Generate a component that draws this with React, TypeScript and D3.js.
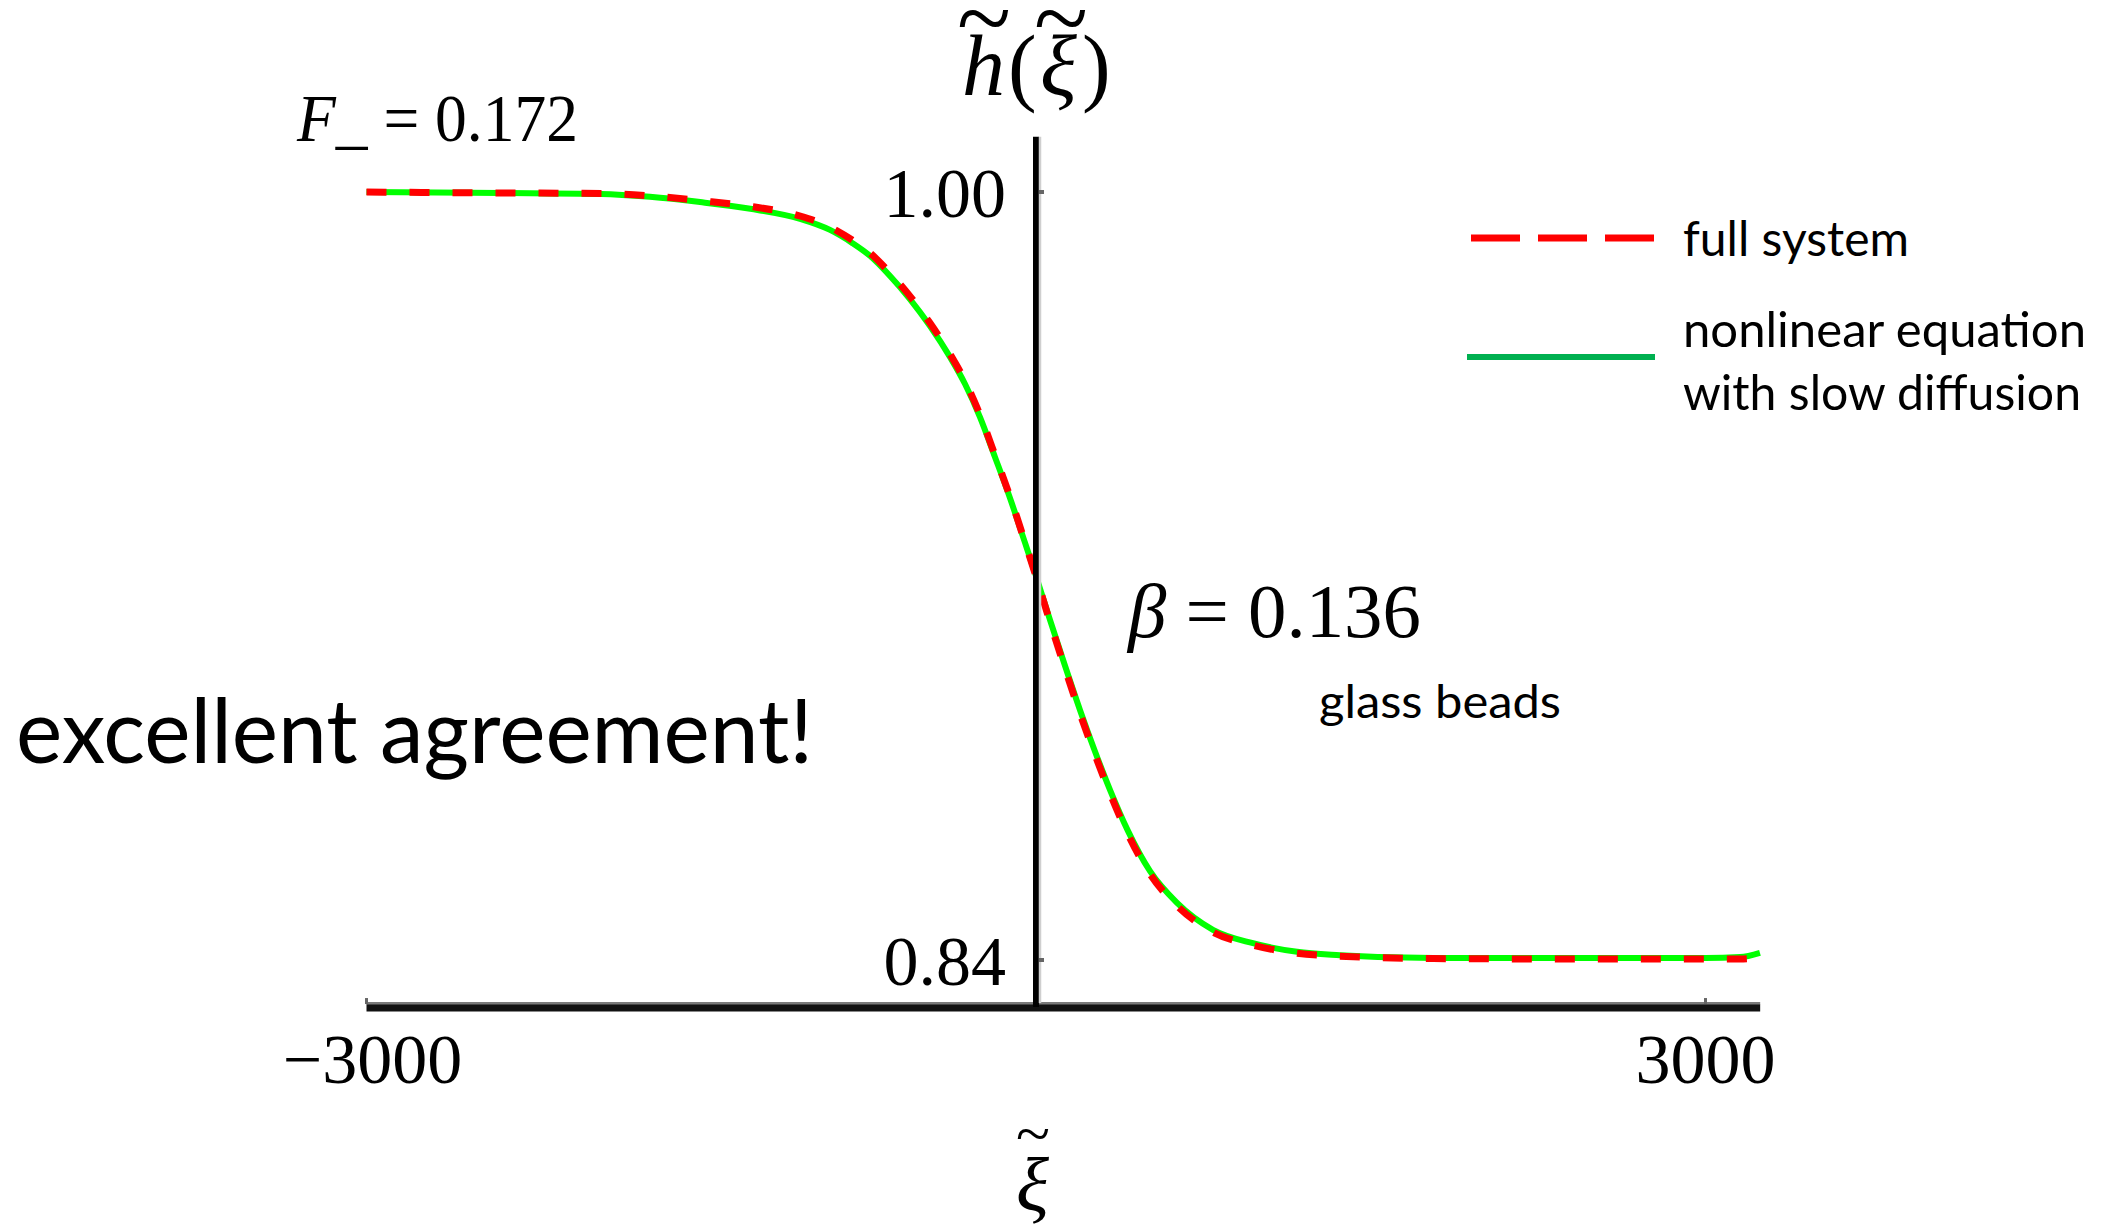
import React from "react";
import * as d3 from "d3";

// ---- data ----
const xiValues = [-3000, -2400, -1950, -1730, -1505, -1280, -1057, -923, -824, -744, -654, -565, -475, -385, -318, -251, -184, -117, -49, -4, 63, 130, 197, 264, 332, 412, 511, 632, 793, 972, 1170, 1362, 1780, 2530, 3000, 3155, 3244];
const nonlinearH = [1.0, 0.9998, 0.9996, 0.999, 0.9979, 0.9965, 0.9944, 0.9921, 0.9894, 0.9867, 0.9825, 0.9777, 0.9721, 0.9656, 0.96, 0.9531, 0.9448, 0.9363, 0.9269, 0.9206, 0.9108, 0.9013, 0.8921, 0.8835, 0.8754, 0.8669, 0.8585, 0.8519, 0.8463, 0.8435, 0.8417, 0.841, 0.8404, 0.8404, 0.8404, 0.8406, 0.8415];
const fullSystemH = [1.0, 0.9998, 0.9997, 0.9992, 0.9982, 0.9970, 0.9950, 0.9927, 0.9900, 0.9873, 0.9831, 0.9783, 0.9727, 0.9662, 0.9606, 0.9536, 0.9452, 0.9366, 0.9270, 0.9205, 0.9104, 0.9007, 0.8914, 0.8828, 0.8747, 0.8662, 0.8579, 0.8513, 0.8458, 0.8431, 0.8414, 0.8408, 0.8403, 0.8402, 0.8402, 0.8402, 0.8405];

const xTicks = [-3000, 3000];
const xTickLabels = ["\u22123000", "3000"];
const yTicks = [1.0, 0.84];
const yTickLabels = ["1.00", "0.84"];

const legendLabels = ["full system", "nonlinear equation", "with slow diffusion"];

const W = 2118;
const H = 1230;

export default function App() {
  const x = d3.scaleLinear().domain([-3000, 3000]).range([366.5, 1705.5]);
  const y = d3.scaleLinear().domain([0.84, 1.0]).range([960, 192]);

  const xAxisY = y(0.8302);
  const yAxisX = x(0);
  const xAxisEnd = x(3245);
  const yAxisTop = y(1.0115);

  const line = d3
    .line<number>()
    .x((_, i) => x(xiValues[i]))
    .y((d) => y(d))
    .curve(d3.curveMonotoneX);

  const serif = "'Liberation Serif', 'Times New Roman', serif";
  const sans = "Lato, 'Open Sans', sans-serif";

  return (
    <svg
      width={W}
      height={H}
      viewBox={`0 0 ${W} ${H}`}
      style={{ position: "absolute", left: 0, top: 0, display: "block", background: "#fff" }}
    >
      <rect x={0} y={0} width={W} height={H} fill="#fff" />

      {/* curves */}
      <path d={line(nonlinearH) || ""} fill="none" stroke="#00ff00" strokeWidth={6} strokeLinejoin="round" />
      <path
        d={line(fullSystemH) || ""}
        fill="none"
        stroke="#ff0000"
        strokeWidth={7}
        strokeDasharray="20 23"
      />

      {/* x axis */}
      <line x1={x(-3000)} x2={xAxisEnd} y1={xAxisY - 3.5} y2={xAxisY - 3.5} stroke="#7a7a7a" strokeWidth={3} />
      <line x1={x(-3000)} x2={xAxisEnd} y1={xAxisY + 1} y2={xAxisY + 1} stroke="#111" strokeWidth={7} />
      {xTicks.map((t, i) => (
        <g key={"xt" + i}>
          <line x1={x(t)} x2={x(t)} y1={xAxisY - 9} y2={xAxisY - 3} stroke="#666" strokeWidth={3} />
          <text
            x={x(t) + (t < 0 ? 6 : 0)}
            y={1083}
            textAnchor="middle"
            fontFamily={serif}
            fontSize={70}
            fill="#000"
          >
            {xTickLabels[i]}
          </text>
        </g>
      ))}

      {/* y axis */}
      <line x1={yAxisX} x2={yAxisX} y1={yAxisTop} y2={xAxisY} stroke="#000" strokeWidth={6} />
      <line x1={yAxisX + 4} x2={yAxisX + 4} y1={yAxisTop} y2={xAxisY - 4} stroke="#cfcfcf" strokeWidth={2.5} />
      {yTicks.map((t, i) => (
        <g key={"yt" + i}>
          <line x1={yAxisX + 3} x2={yAxisX + 8} y1={y(t)} y2={y(t)} stroke="#666" strokeWidth={4} />
          <text x={1006} y={y(t) + 25} textAnchor="end" fontFamily={serif} fontSize={70} fill="#000">
            {yTickLabels[i]}
          </text>
        </g>
      ))}

      {/* y axis label h~(xi~) as one text with positioned parts */}
      <text fontFamily={serif} fontSize={86} fill="#000">
        <tspan x={962} y={95} fontStyle="italic">h</tspan>
        <tspan x={1008} y={95}>(</tspan>
        <tspan x={1040} y={95} fontStyle="italic">ξ</tspan>
        <tspan x={1082} y={95}>)</tspan>
        <tspan x={957} y={51} fontSize={100} textLength={54} lengthAdjust="spacingAndGlyphs">~</tspan>
        <tspan x={1034} y={51} fontSize={100} textLength={54} lengthAdjust="spacingAndGlyphs">~</tspan>
      </text>

      {/* x axis label xi~ */}
      <text fontFamily={serif} fontSize={77} fill="#000">
        <tspan x={1016} y={1211} fontStyle="italic">ξ</tspan>
        <tspan x={1016} y={1154} fontSize={60} textLength={34} lengthAdjust="spacingAndGlyphs">~</tspan>
      </text>

      {/* parameter annotations */}
      <text x={297} y={141} fontFamily={serif} fontSize={67} fill="#000" textLength={281} lengthAdjust="spacingAndGlyphs">
        <tspan fontStyle="italic">F</tspan>
        <tspan>_ = 0.172</tspan>
      </text>
      <text x={1128} y={637} fontFamily={serif} fontSize={76} fill="#000" textLength={293} lengthAdjust="spacingAndGlyphs">
        <tspan fontStyle="italic">β</tspan>
        <tspan> = 0.136</tspan>
      </text>
      <text x={1319} y={718} fontFamily={sans} fontSize={46} fill="#000" textLength={242} lengthAdjust="spacingAndGlyphs">
        glass beads
      </text>
      <text x={16} y={763} fontFamily={sans} fontSize={90} fill="#000" textLength={797} lengthAdjust="spacingAndGlyphs">
        excellent agreement!
      </text>

      {/* legend */}
      <line x1={1471} x2={1654} y1={238} y2={238} stroke="#ff0000" strokeWidth={7} strokeDasharray="49 18" />
      <text x={1683} y={256} fontFamily={sans} fontSize={48} fill="#000" textLength={226} lengthAdjust="spacingAndGlyphs">
        {legendLabels[0]}
      </text>
      <line x1={1467} x2={1655} y1={357} y2={357} stroke="#00b050" strokeWidth={6} />
      <text x={1683} y={347} fontFamily={sans} fontSize={48} fill="#000" textLength={403} lengthAdjust="spacingAndGlyphs">
        {legendLabels[1]}
      </text>
      <text x={1683} y={410} fontFamily={sans} fontSize={48} fill="#000" textLength={398} lengthAdjust="spacingAndGlyphs">
        {legendLabels[2]}
      </text>
    </svg>
  );
}
